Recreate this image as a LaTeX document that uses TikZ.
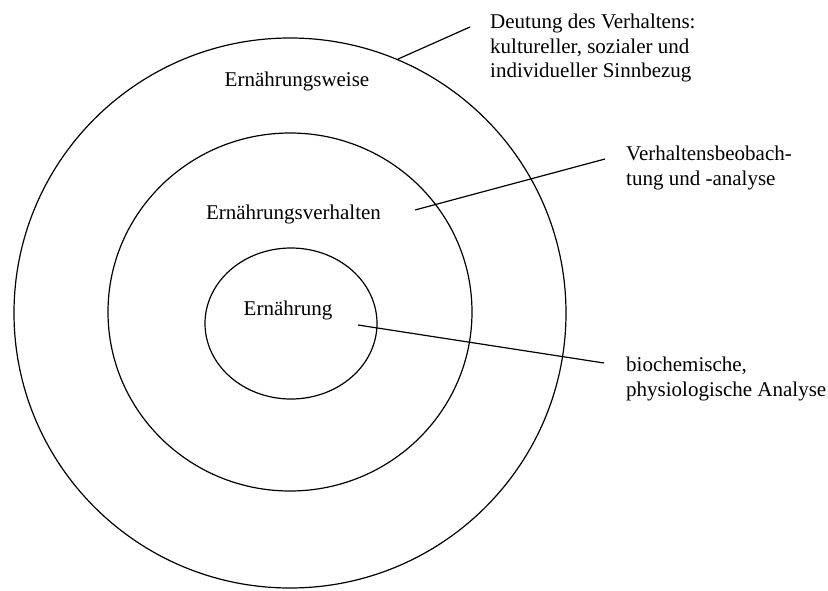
\documentclass[tikz,border=0pt]{standalone}
\usepackage{fontspec}
\setmainfont{Liberation Serif}
\usetikzlibrary{shapes.geometric}
\begin{document}
\begin{tikzpicture}[x=1pt,y=-1pt,
  ring/.style={draw, ellipse, line width=1.2pt, inner sep=0pt},
  conn/.style={draw, line width=1.2pt},
  lbl/.style={font=\fontsize{21}{24.5}\selectfont, inner sep=0pt},
  side/.style={lbl, align=left, anchor=base west}]
\useasboundingbox (0,0) rectangle (828,590);
\node[ring, minimum width=552pt, minimum height=550pt] (outer) at (290,313) {};
\node[ring, minimum width=364pt, minimum height=358pt] (middle) at (290,312) {};
\node[ring, minimum width=172pt, minimum height=151pt] (inner) at (291,323.5) {};
\node[lbl, anchor=base] (weise) at (297,86) {Ernährungsweise};
\node[lbl, anchor=base] (verh) at (293.5,219) {Ernährungsverhalten};
\node[lbl, anchor=base] (ern) at (288,315) {Ernährung};
\node[side] (t1) at (490,77.5) {Deutung des Verhaltens:\\kultureller, sozialer und\\individueller Sinnbezug};
\node[side] (t2) at (626,185) {Verhaltensbeobach-\\tung und -analyse};
\node[side] (t3) at (626,396) {biochemische,\\physiologische Analyse};
\coordinate (e1) at (470,27);
\coordinate (s2) at (415,210);
\coordinate (e2) at (605,159);
\coordinate (s3) at (358,325);
\coordinate (e3) at (604,363);
\draw[conn] (outer.67.7) -- (e1);
\draw[conn] (s2) -- (e2);
\draw[conn] (s3) -- (e3);
\end{tikzpicture}
\end{document}
